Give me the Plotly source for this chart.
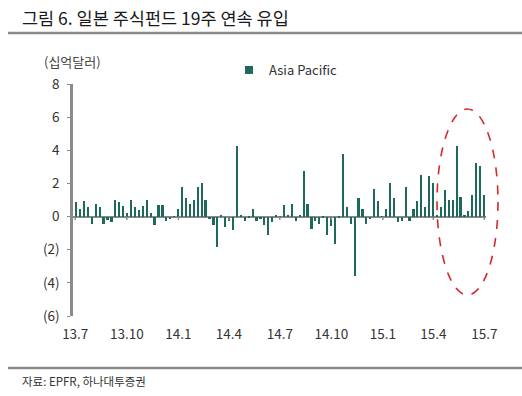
import pandas as pd
import plotly.graph_objects as go

# Weekly fund flows, Japan equity funds (Asia Pacific), billion USD
start_week = "2013-07-03"
values = [
    0.87, 0.46, 0.93, 0.57, -0.44, 0.73, 0.57, -0.44, -0.20, -0.34,
    1.03, 0.85, 0.65, 0.20, 1.03, 0.57, 0.38, 0.65, 1.03, 0.20,
    -0.52, 0.67, 0.67, -0.24, -0.14, 0.03, 0.46, 1.78, 1.11, 0.75,
    1.03, 1.78, 2.04, 1.03, -0.14, -0.50, -1.82, 0.10, -0.65, -0.24,
    -0.80, 4.26, 0.10, -0.24, -0.10, 0.46, -0.24, -0.14, -0.48, -1.09,
    -0.34, 0.12, 0.03, 0.67, 0.12, 0.73, -0.24, 0.12, 2.73, 0.73,
    -0.75, -0.24, -0.44, -0.04, -1.11, -0.55, -1.66, -0.10, 3.80, 0.57,
    -0.44, -3.58, 1.13, 0.46, -0.44, -0.14, 1.68, 0.97, 0.03, 0.46,
    2.04, 1.13, -0.34, -0.24, 1.78, -0.24, 0.46, 0.95, 2.53, 0.57,
    2.42, 2.04, 0.05, 0.57, 1.58, 1.03, 1.03, 4.24, 1.21, 0.10,
    0.36, 1.31, 3.25, 3.05, 1.31,
]
weeks = pd.date_range(start_week, periods=len(values), freq="7D")

series_name = "Asia Pacific"
x_tick_dates = ["2013-07-01", "2013-10-01", "2014-01-01", "2014-04-01", "2014-07-01",
                "2014-10-01", "2015-01-01", "2015-04-01", "2015-07-01"]
x_tick_labels = ["13.7", "13.10", "14.1", "14.4", "14.7", "14.10", "15.1", "15.4", "15.7"]
y_tick_vals = [-6, -4, -2, 0, 2, 4, 6, 8]
y_tick_labels = ["(6)", "(4)", "(2)", "0", "2", "4", "6", "8"]

BAR = "#1d6a5d"
GRAY = "#8a8a8a"
KFONT = "Noto Sans CJK KR, Noto Sans, sans-serif"

W, H = 522, 396
L, R, T, B = 73, 36, 84, 80
PW, PH = W - L - R, H - T - B


def px_x(p):
    return (p - L) / PW


def px_y(p):
    return (H - B - p) / PH


fig = go.Figure()
fig.add_trace(go.Bar(
    x=weeks, y=values, name=series_name,
    marker=dict(color=BAR, line=dict(width=0)),
    width=3.0 * 86400000,
    showlegend=False,
))
# legend entry (small square swatch like the reference)
fig.add_trace(go.Scatter(
    x=[None], y=[None], mode="markers", name=series_name,
    marker=dict(symbol="square", size=8, color=BAR),
    showlegend=True,
))

shapes = []
# small x ticks on the zero line
for d in x_tick_dates:
    shapes.append(dict(type="line", xref="x", yref="y", x0=d, x1=d, y0=0, y1=-0.2,
                       line=dict(color=GRAY, width=1.5)))
# header / footer rules
shapes.append(dict(type="line", xref="paper", yref="paper", x0=px_x(8), x1=px_x(522),
                   y0=px_y(33), y1=px_y(33), line=dict(color=GRAY, width=2.5)))
shapes.append(dict(type="line", xref="paper", yref="paper", x0=px_x(8), x1=px_x(522),
                   y0=px_y(368), y1=px_y(368), line=dict(color=GRAY, width=2.5)))
# highlight ellipse
shapes.append(dict(type="circle", xref="paper", yref="paper",
                   x0=px_x(437), x1=px_x(498), y0=px_y(295), y1=px_y(109),
                   line=dict(color="#d42a2a", width=1.6, dash="dash")))

annotations = [
    dict(text="그림 6. 일본 주식펀드 19주 연속 유입", xref="paper", yref="paper",
         x=px_x(20), y=px_y(18), xanchor="left", yanchor="middle", showarrow=False,
         font=dict(family=KFONT, size=17.5, color="#1a1a1a")),
    dict(text="(십억달러)", xref="paper", yref="paper",
         x=px_x(42), y=px_y(62), xanchor="left", yanchor="middle", showarrow=False,
         font=dict(family=KFONT, size=13, color="#444")),
    dict(text="자료: EPFR, 하나대투증권", xref="paper", yref="paper",
         x=px_x(20), y=px_y(381), xanchor="left", yanchor="middle", showarrow=False,
         font=dict(family=KFONT, size=11.5, color="#333")),
]

fig.update_layout(
    width=W, height=H,
    margin=dict(l=L, r=R, t=T, b=B, autoexpand=False),
    paper_bgcolor="white", plot_bgcolor="white",
    font=dict(family=KFONT, color="#333"),
    shapes=shapes, annotations=annotations,
    bargap=0,
    legend=dict(x=px_x(229), y=px_y(70), xanchor="left", yanchor="middle",
                font=dict(size=13, color="#333"), bgcolor="rgba(0,0,0,0)",
                itemwidth=30, tracegroupgap=0),
    xaxis=dict(
        range=["2013-06-27", "2015-07-04"],
        tickvals=x_tick_dates, ticktext=x_tick_labels,
        showgrid=False, showline=False, zeroline=False, ticks="",
        ticklabelstandoff=8,
        tickfont=dict(size=13.5, color="#333"),
    ),
    yaxis=dict(
        range=[-6, 8], tickvals=y_tick_vals, ticktext=y_tick_labels,
        showgrid=False, showline=True, linecolor=GRAY, linewidth=2.5,
        ticks="outside", ticklen=3, tickcolor=GRAY,
        ticklabelstandoff=5,
        zeroline=True, zerolinecolor=GRAY, zerolinewidth=2,
        tickfont=dict(size=13.5, color="#333"),
    ),
)

fig.write_html("out.html", post_script="document.body.style.margin='0';",
               config={"displayModeBar": False})
